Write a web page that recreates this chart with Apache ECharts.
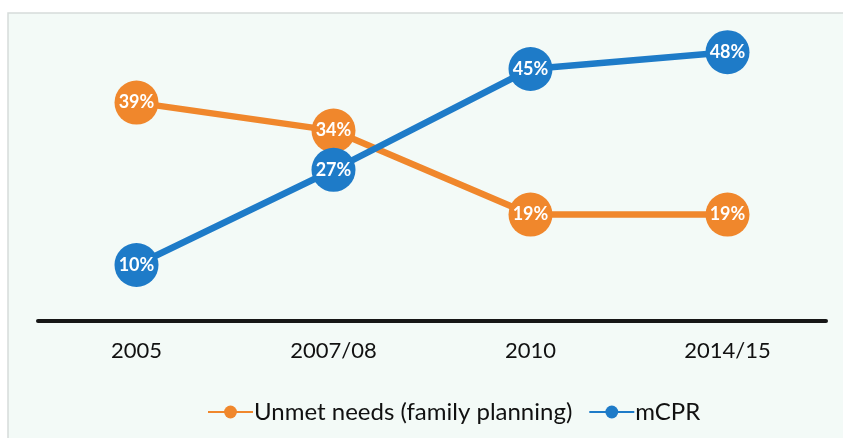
<!DOCTYPE html>
<html>
<head>
<meta charset="utf-8">
<style>
  html, body { margin: 0; padding: 0; background: #ffffff; }
  #chart { width: 843px; height: 438px; }
</style>
<script src="https://cdn.jsdelivr.net/npm/echarts@6/dist/echarts.min.js"></script>
</head>
<body>
<div id="chart"></div>
<script>
// Survey rounds and indicator values (%)
const categories = ['2005', '2007/08', '2010', '2014/15'];
const unmetNeeds = [39, 34, 19, 19];
const mcpr = [10, 27, 45, 48];
const seriesNames = ['Unmet needs (family planning)', 'mCPR'];

const ORANGE = '#f0872c';
const BLUE = '#1e7bc8';
const FONT = 'Lato, "Open Sans", sans-serif';

const chart = echarts.init(document.getElementById('chart'), null, { renderer: 'canvas' });

function lineSeries(name, data, color) {
  return {
    name: name,
    type: 'line',
    data: data,
    symbol: 'circle',
    symbolSize: 44,
    lineStyle: { color: color, width: 6.5 },
    itemStyle: { color: color },
    label: {
      show: true,
      position: 'inside',
      formatter: '{c}%',
      color: '#ffffff',
      fontFamily: FONT,
      fontWeight: 'bold',
      fontSize: 18
    },
    emphasis: { disabled: true },
    animation: false
  };
}

chart.setOption({
  backgroundColor: '#ffffff',
  graphic: [{
    type: 'rect',
    z: -10,
    shape: { x: 8, y: 13, width: 840, height: 430 },
    style: { fill: '#f3faf7', stroke: '#d6dbda', lineWidth: 1.5 }
  }],
  grid: { left: 38, right: 17, top: 41, bottom: 117 },
  xAxis: {
    type: 'category',
    data: categories,
    boundaryGap: true,
    axisLine: { lineStyle: { color: '#161616', width: 4 } },
    axisTick: { show: false },
    axisLabel: {
      color: '#111111',
      fontFamily: FONT,
      fontSize: 22,
      margin: 19
    }
  },
  yAxis: {
    type: 'value',
    min: 0,
    max: 50,
    show: false,
    splitLine: { show: false }
  },
  legend: {
    bottom: 9,
    left: 202,
    itemWidth: 45,
    itemHeight: 16,
    itemGap: 16,
    textStyle: { fontFamily: FONT, fontSize: 24, color: '#111111', padding: [0, 0, 0, -4] },
    data: seriesNames
  },
  series: [
    lineSeries(seriesNames[0], unmetNeeds, ORANGE),
    lineSeries(seriesNames[1], mcpr, BLUE)
  ]
});
</script>
</body>
</html>
